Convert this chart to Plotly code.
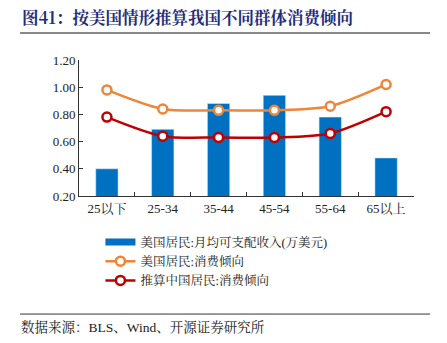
import plotly.graph_objects as go

categories = ["25以下", "25-34", "35-44", "45-54", "55-64", "65以上"]
income = [0.40, 0.69, 0.88, 0.94, 0.78, 0.48]
us_mpc = [0.98, 0.84, 0.83, 0.83, 0.86, 1.02]
cn_mpc = [0.78, 0.64, 0.63, 0.63, 0.66, 0.82]
y_ticks = [0.2, 0.4, 0.6, 0.8, 1.0, 1.2]
y_labels = ["0.20", "0.40", "0.60", "0.80", "1.00", "1.20"]

FONT = "Liberation Serif, Noto Serif CJK SC, Noto Sans CJK SC, serif"
BLUE = "#0070C0"
ORANGE = "#EF8535"
RED = "#C00000"

fig = go.Figure()
fig.add_trace(go.Bar(x=categories, y=income, name="美国居民:月均可支配收入(万美元)",
                     marker=dict(color=BLUE), width=0.4, showlegend=False))
# legend entry for bars drawn as a wide rectangle
fig.add_trace(go.Scatter(x=[None], y=[None], mode="lines", name="美国居民:月均可支配收入(万美元)",
                         line=dict(color=BLUE, width=7)))
fig.add_trace(go.Scatter(x=categories, y=us_mpc, name="美国居民:消费倾向", mode="lines+markers",
                         line=dict(color=ORANGE, width=2.5, shape="spline", smoothing=0.8),
                         marker=dict(symbol="circle", size=9, color="white",
                                     line=dict(color=ORANGE, width=2.5))))
fig.add_trace(go.Scatter(x=categories, y=cn_mpc, name="推算中国居民:消费倾向", mode="lines+markers",
                         line=dict(color=RED, width=2.5, shape="spline", smoothing=0.8),
                         marker=dict(symbol="circle", size=9, color="white",
                                     line=dict(color=RED, width=2.5))))

fig.update_layout(
    width=447, height=343,
    margin=dict(l=79, r=33, t=60, b=147),
    paper_bgcolor="white", plot_bgcolor="white",
    font=dict(family=FONT, size=13, color="#222"),
    bargap=0.6,
    showlegend=True,
    legend=dict(x=0.064, y=-0.23, xanchor="left", yanchor="top", bgcolor="rgba(0,0,0,0)",
                font=dict(size=12.5, family=FONT), tracegroupgap=0, itemwidth=30),
    xaxis=dict(type="category", showline=True, linecolor="#333", linewidth=1,
               ticks="inside", tickson="boundaries", ticklen=4, tickcolor="#333",
               tickfont=dict(size=13, family=FONT), showgrid=False),
    yaxis=dict(range=[0.2, 1.2], tickvals=y_ticks, ticktext=y_labels, showline=True,
               linecolor="#333", linewidth=1, ticks="inside", ticklen=4, tickcolor="#333",
               showgrid=False, zeroline=False, tickfont=dict(size=13, family=FONT)),
    annotations=[
        dict(text="<b>图41：按美国情形推算我国不同群体消费倾向</b>", xref="paper", yref="paper",
             x=-0.175, xanchor="left", y=1.316, yanchor="middle", showarrow=False,
             font=dict(size=16.5, color="#1F2D7A", family="Noto Serif CJK SC, Noto Sans CJK SC")),
        dict(text="数据来源：BLS、Wind、开源证券研究所", xref="paper", yref="paper",
             x=-0.18, xanchor="left", y=-0.963, yanchor="middle", showarrow=False,
             font=dict(size=13.5, color="#222", family=FONT)),
    ],
    shapes=[
        dict(type="line", xref="paper", yref="paper", x0=-0.176, x1=1.048, y0=1.199, y1=1.199,
             line=dict(color="#888", width=2)),
        dict(type="line", xref="paper", yref="paper", x0=-0.176, x1=1.048, y0=-0.868, y1=-0.868,
             line=dict(color="#333", width=1)),
    ],
)

fig.write_html("out.html")
